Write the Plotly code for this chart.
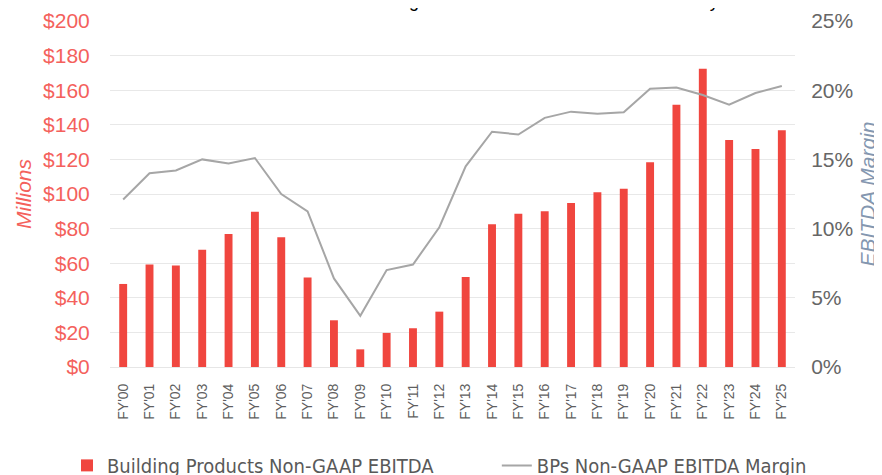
import plotly.graph_objects as go

years = ["FY'00","FY'01","FY'02","FY'03","FY'04","FY'05","FY'06","FY'07","FY'08","FY'09",
         "FY'10","FY'11","FY'12","FY'13","FY'14","FY'15","FY'16","FY'17","FY'18","FY'19",
         "FY'20","FY'21","FY'22","FY'23","FY'24","FY'25"]
ebitda = [48.0, 59.3, 58.6, 67.8, 76.9, 89.8, 75.0, 51.8, 27.0, 10.2,
          19.7, 22.4, 32.0, 52.0, 82.5, 88.6, 90.0, 94.8, 101.0, 103.1,
          118.3, 151.6, 172.4, 131.2, 126.0, 136.8]
margin = [12.1, 14.0, 14.2, 15.0, 14.7, 15.1, 12.5, 11.25, 6.4, 3.7,
          7.0, 7.4, 10.1, 14.5, 17.0, 16.8, 18.0, 18.45, 18.3, 18.4,
          20.1, 20.2, 19.65, 18.95, 19.8, 20.3]
margin_frac = [m / 100 for m in margin]

bar_name = "Building Products Non-GAAP EBITDA"
line_name = "BPs Non-GAAP EBITDA Margin"
title_text = "Building Products Non-GAAP EBITDA History"

RED = "#F0463F"
RED_TXT = "#F4615C"
GRAY_LINE = "#A6A6A6"
CLEAR = "rgba(0,0,0,0)"

fig = go.Figure()
fig.add_trace(go.Bar(x=years, y=ebitda, name=bar_name, marker_color=RED,
                     marker_line_width=0, yaxis="y", legend="legend"))
fig.add_trace(go.Scatter(x=years, y=margin_frac, name=line_name, mode="lines",
                         line=dict(color=GRAY_LINE, width=2), yaxis="y2", legend="legend2"))

legend_font = dict(family="DejaVu Sans Condensed, Liberation Sans Narrow, sans-serif",
                   size=20, color="#595959")

fig.update_layout(
    width=882, height=475,
    margin=dict(l=102, r=95, t=13, b=116, autoexpand=False),
    plot_bgcolor="white", paper_bgcolor="white",
    bargap=0.7,
    showlegend=True,
    font=dict(family="Liberation Sans, Arial, sans-serif"),
    xaxis=dict(type="category", tickangle=-90, showgrid=False, automargin=False,
               tickfont=dict(size=14, color="#5f5f5f"),
               showline=True, linecolor="#E6E6E6", linewidth=1,
               ticks="outside", ticklen=10, tickcolor=CLEAR),
    yaxis=dict(range=[0, 200], dtick=20, tickprefix="$", showgrid=True, automargin=False,
               gridcolor="#E8E8E8", gridwidth=1, zeroline=False,
               ticks="outside", ticklen=15, tickcolor=CLEAR,
               tickfont=dict(size=21, color=RED_TXT),
               title=dict(text="<i>Millions</i>", font=dict(size=21, color=RED_TXT), standoff=5)),
    yaxis2=dict(range=[0, 0.25], dtick=0.05, tickformat=".0%", overlaying="y", side="right",
                showgrid=False, zeroline=False, automargin=False,
                ticks="outside", ticklen=11, tickcolor=CLEAR,
                tickfont=dict(size=21, color="#666666"),
                title=dict(text="<i>EBITDA Margin</i>", font=dict(size=21, color="#8497B0"), standoff=8)),
    legend=dict(orientation="h", x=-0.0628, xanchor="left", y=-0.228, yanchor="top",
                font=legend_font, itemwidth=30),
    legend2=dict(orientation="h", x=0.5647, xanchor="left", y=-0.228, yanchor="top",
                 font=legend_font, itemwidth=30),
)

fig.add_annotation(text=title_text, xref="paper", yref="paper",
                   x=(537 - 110) / 685, y=1 + 8 / 346, xanchor="center", yanchor="bottom",
                   showarrow=False, font=dict(size=18, color="#000000",
                                              family="Liberation Sans, Arial, sans-serif"))

fig.write_html("out.html")
